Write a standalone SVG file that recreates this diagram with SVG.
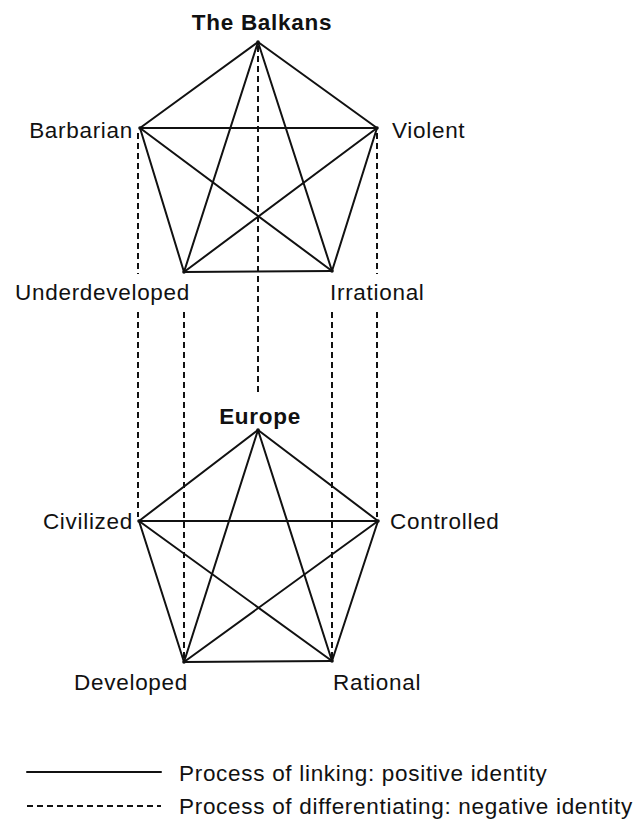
<svg xmlns="http://www.w3.org/2000/svg" width="637" height="820" viewBox="0 0 637 820">
<style>
text{font-family:"Liberation Sans",Arial,Helvetica,sans-serif;font-size:22.5px;letter-spacing:0.7px;fill:#111}
.b{font-weight:bold}
.s{stroke:#111;stroke-width:2;fill:none;stroke-linecap:round}
.d{stroke:#111;stroke-width:2;fill:none;stroke-dasharray:6 4}
.v{fill:#111}
</style>
<rect width="637" height="820" fill="#fff"/>
<g id="connectors">
<g id="balkans-links">
<line class="s" x1="258" y1="42" x2="140" y2="128"/>
<line class="s" x1="258" y1="42" x2="377" y2="128"/>
<line class="s" x1="258" y1="42" x2="184" y2="272"/>
<line class="s" x1="258" y1="42" x2="332" y2="271"/>
<line class="s" x1="140" y1="128" x2="377" y2="128"/>
<line class="s" x1="140" y1="128" x2="184" y2="272"/>
<line class="s" x1="140" y1="128" x2="332" y2="271"/>
<line class="s" x1="377" y1="128" x2="184" y2="272"/>
<line class="s" x1="377" y1="128" x2="332" y2="271"/>
<line class="s" x1="184" y1="272" x2="332" y2="271"/>
</g>
<g id="europe-links">
<line class="s" x1="258" y1="430" x2="139" y2="521"/>
<line class="s" x1="258" y1="430" x2="378" y2="521"/>
<line class="s" x1="258" y1="430" x2="184" y2="662"/>
<line class="s" x1="258" y1="430" x2="332" y2="661"/>
<line class="s" x1="139" y1="521" x2="378" y2="521"/>
<line class="s" x1="139" y1="521" x2="184" y2="662"/>
<line class="s" x1="139" y1="521" x2="332" y2="661"/>
<line class="s" x1="378" y1="521" x2="184" y2="662"/>
<line class="s" x1="378" y1="521" x2="332" y2="661"/>
<line class="s" x1="184" y1="662" x2="332" y2="661"/>
</g>
<g id="differentiating-links">
<line class="d" x1="258" y1="46" x2="258" y2="395"/>
<line class="d" x1="138" y1="133" x2="138" y2="274"/>
<line class="d" x1="138" y1="312" x2="138" y2="517"/>
<line class="d" x1="377" y1="133" x2="377" y2="274"/>
<line class="d" x1="377" y1="312" x2="377" y2="517"/>
<line class="d" x1="184" y1="312" x2="184" y2="660"/>
<line class="d" x1="332" y1="312" x2="332" y2="660"/>
</g>
</g>
<g id="node-balkans"><circle class="v" cx="258" cy="42" r="1.8"/><text class="b" x="262" y="30" text-anchor="middle">The Balkans</text></g>
<g id="node-barbarian"><circle class="v" cx="140" cy="128" r="1.8"/><text x="133" y="138" text-anchor="end">Barbarian</text></g>
<g id="node-violent"><circle class="v" cx="377" cy="128" r="1.8"/><text x="392" y="138">Violent</text></g>
<g id="node-underdeveloped"><circle class="v" cx="184" cy="272" r="1.8"/><text x="190" y="300" text-anchor="end">Underdeveloped</text></g>
<g id="node-irrational"><circle class="v" cx="332" cy="271" r="1.8"/><text x="330" y="300">Irrational</text></g>
<g id="node-europe"><circle class="v" cx="258" cy="430" r="1.8"/><text class="b" x="260" y="424" text-anchor="middle">Europe</text></g>
<g id="node-civilized"><circle class="v" cx="139" cy="521" r="1.8"/><text x="133" y="529" text-anchor="end">Civilized</text></g>
<g id="node-controlled"><circle class="v" cx="378" cy="521" r="1.8"/><text x="390" y="529">Controlled</text></g>
<g id="node-developed"><circle class="v" cx="184" cy="662" r="1.8"/><text x="188" y="690" text-anchor="end">Developed</text></g>
<g id="node-rational"><circle class="v" cx="332" cy="661" r="1.8"/><text x="333" y="690">Rational</text></g>
<g id="legend">
<line class="s" x1="27" y1="772" x2="161" y2="772" stroke-linecap="butt"/>
<text x="179" y="781">Process of linking: positive identity</text>
<line class="d" x1="27" y1="806" x2="161" y2="806" stroke-dasharray="8 4.5"/>
<text x="179" y="814">Process of differentiating: negative identity</text>
</g>
</svg>
